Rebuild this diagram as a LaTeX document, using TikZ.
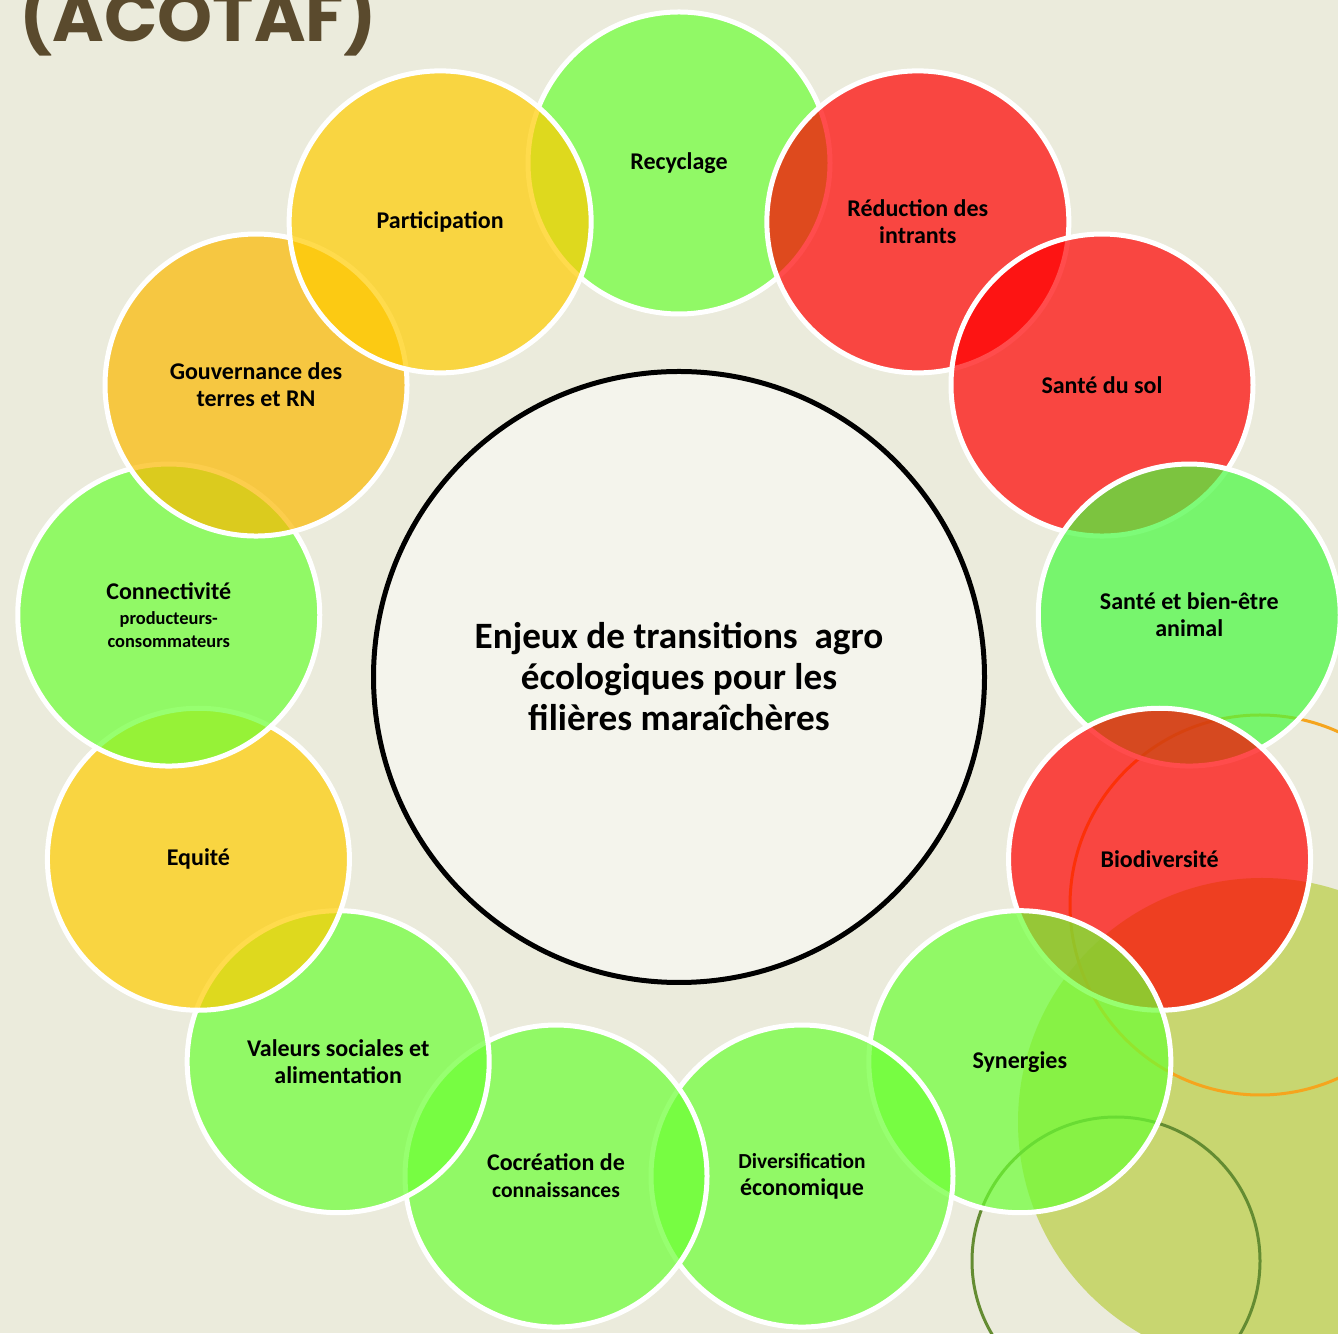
\documentclass[tikz,border=0pt]{standalone}
\usepackage{fontspec}
\usetikzlibrary{calc}
\setmainfont{Carlito}
\newfontfamily\titlefont{Poppins}
\definecolor{paper}{RGB}{235,235,220}
\definecolor{hubfill}{RGB}{244,244,236}
\definecolor{olive}{RGB}{200,214,112}
\definecolor{ringorange}{RGB}{245,165,30}
\definecolor{ringgreen}{RGB}{100,140,50}
\definecolor{titlebrown}{RGB}{90,74,45}
\definecolor{gr}{RGB}{108,255,52}
\definecolor{grb}{RGB}{71,250,63}
\definecolor{rd}{RGB}{255,0,0}
\definecolor{yl}{RGB}{255,204,0}
\definecolor{og}{RGB}{251,184,0}
\tikzset{
  bubble/.style={circle, minimum size=151pt, inner sep=0pt, draw=white,
    line width=2.5pt, fill opacity=0.7, draw opacity=1, text opacity=1,
    align=center, font=\fontsize{12}{13.5}\selectfont\bfseries},
  hub/.style={circle, minimum size=305.5pt, inner sep=0pt, draw=black,
    line width=2.5pt, fill=hubfill, align=center,
    font=\fontsize{18.6}{20.5}\selectfont\bfseries},
  decoring/.style={line width=1.5pt}
}
\begin{document}
\begin{tikzpicture}[x=0.5pt,y=0.5pt]
  \fill[paper] (0,0) rectangle (1338,1333);
  \useasboundingbox (0,0) rectangle (1338,1333);
  \begin{scope}
    \clip (0,0) rectangle (1338,1333);
    % background ornaments, lower right
    \fill[olive] (1262,211) circle[radius=244];
    \draw[decoring, ringorange] (1260,428) circle[radius=190];
    \draw[decoring, ringgreen] (1116,72) circle[radius=144];
    % title
    \node[anchor=base west, inner sep=0pt, text=titlebrown,
      font=\titlefont\bfseries\fontsize{35}{40}\selectfont]
      (title) at (19,1291) {(ACOTAF)};
  \end{scope}

  % central hub
  \coordinate (o) at (679,656);
  \node[hub] (hub) at (o) {Enjeux de transitions\ \ agro\\ écologiques pour les\\ filières maraîchères};

  % ring of themes, drawn clockwise from the top
  \def\angstep{27.6923}
  \node[bubble, fill=gr]  (b0)  at ($(o)+(90-0*\angstep:514)$) {Recyclage};
  \node[bubble, fill=rd]  (b1)  at ($(o)+(90-1*\angstep:514)$) {Réduction des\\ intrants};
  \node[bubble, fill=rd]  (b2)  at ($(o)+(90-2*\angstep:514)$) {Santé du sol};
  \node[bubble, fill=grb] (b3)  at ($(o)+(90-3*\angstep:514)$) {Santé et bien-être\\ animal};
  \node[bubble, fill=rd]  (b4)  at ($(o)+(90-4*\angstep:514)$) {Biodiversité};
  \node[bubble, fill=gr]  (b5)  at ($(o)+(90-5*\angstep:514)$) {Synergies};
  \node[bubble, fill=gr]  (b6)  at ($(o)+(90-6*\angstep:514)$) {{\fontsize{10.7}{13.5}\selectfont Diversification}\\ économique};
  \node[bubble, fill=gr]  (b7)  at ($(o)+(90-7*\angstep:514)$) {Cocréation de\\ {\fontsize{10.8}{12.5}\selectfont connaissances}};
  \node[bubble, fill=gr]  (b8)  at ($(o)+(90-8*\angstep:514)$) {Valeurs sociales et\\ alimentation};
  \node[bubble, fill=yl]  (b9)  at ($(o)+(90-9*\angstep:514)$) {Equité};
  \node[bubble, fill=gr]  (b10) at ($(o)+(90-10*\angstep:514)$) {Connectivité\\[-1pt] {\fontsize{9.2}{10}\selectfont producteurs-}\\[-2pt] {\fontsize{9.2}{10}\selectfont consommateurs}};
  \node[bubble, fill=og]  (b11) at ($(o)+(90-11*\angstep:514)$) {Gouvernance des\\ terres et RN};
  \node[bubble, fill=yl]  (b12) at ($(o)+(90-12*\angstep:514)$) {Participation};
\end{tikzpicture}
\end{document}
